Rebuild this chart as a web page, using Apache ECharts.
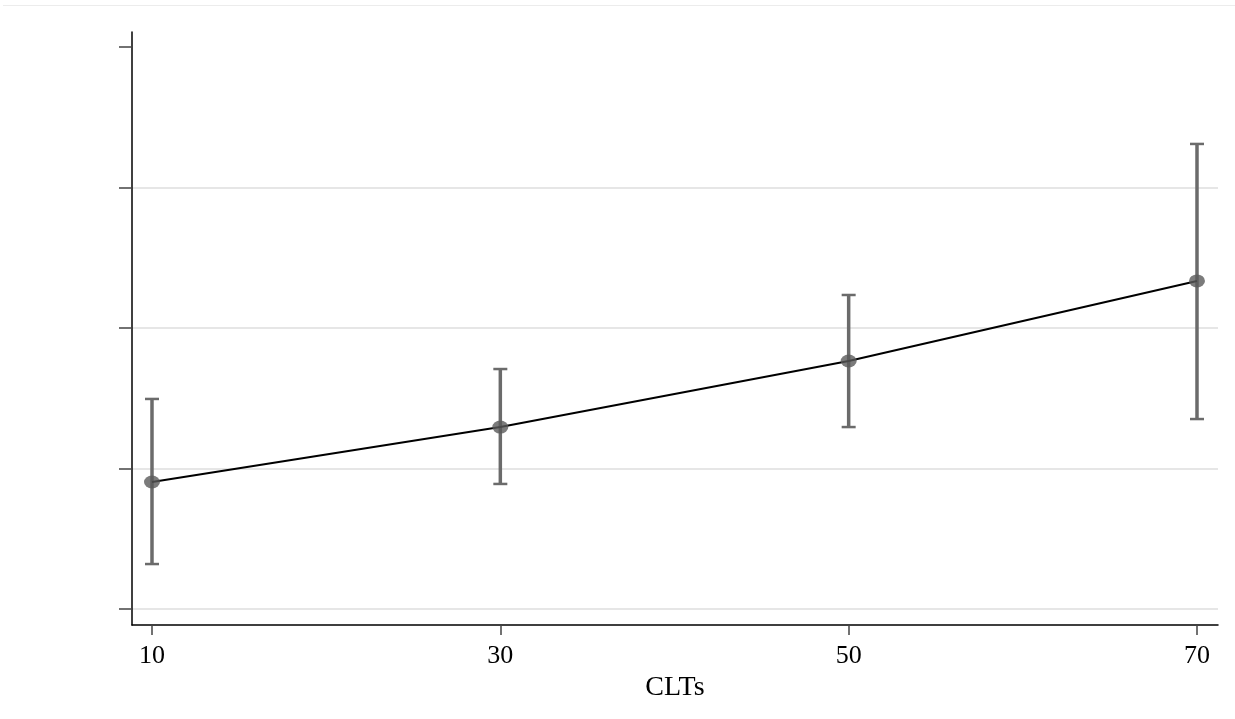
<!DOCTYPE html>
<html><head><meta charset="utf-8">
<script src="https://cdn.jsdelivr.net/npm/echarts@6/dist/echarts.min.js"></script>
<style>html,body{margin:0;padding:0;background:#fff}#c{width:1235px;height:719px}</style>
</head><body><div id="c"></div>
<script>
const categories = [10, 30, 50, 70];
const meanValues = [0.904, 1.295, 1.765, 2.335];
const upperValues = [1.495, 1.708, 2.235, 3.310];
const lowerValues = [0.320, 0.890, 1.295, 1.352];
const xTicks = [10, 30, 50, 70];
const xRange = [8.852, 71.206];
const yTicks = [0, 1, 2, 3, 4];

const chart = echarts.init(document.getElementById('c'), null, {renderer: 'canvas'});
const font = 'Liberation Serif';
const linePts = categories.map((c, i) => [c, meanValues[i]]);
const errPts = categories.map((c, i) => [c, lowerValues[i], upperValues[i]]);

chart.setOption({
  animation: false,
  backgroundColor: '#fff',
  graphic: [{type: 'line', shape: {x1: 3, y1: 5.5, x2: 1235, y2: 5.5}, style: {stroke: '#ececec', lineWidth: 1}, silent: true}],
  grid: [
    {left: 132, right: 17, top: 47, bottom: 110},
    {left: 132, right: 17, top: 32, bottom: 94}
  ],
  xAxis: [
    {type: 'value', gridIndex: 0, min: xRange[0], max: xRange[1], offset: 16,
     axisLine: {show: false, onZero: false},
     axisTick: {show: true, length: 10, customValues: xTicks, lineStyle: {color: '#444', width: 1.5}},
     axisLabel: {fontFamily: font, fontSize: 26, color: '#000', margin: 18, customValues: xTicks},
     splitLine: {show: false},
     name: 'CLTs', nameLocation: 'middle', nameGap: 46,
     nameTextStyle: {fontFamily: font, fontSize: 28, color: '#000'}},
    {type: 'value', gridIndex: 1, min: 0, max: 1, axisLine: {show: true, onZero: false, lineStyle: {color: '#000', width: 1.5}},
     axisTick: {show: false}, axisLabel: {show: false}, splitLine: {show: false}}
  ],
  yAxis: [
    {type: 'value', gridIndex: 0, min: yTicks[0], max: yTicks[yTicks.length-1], interval: 1,
     axisLine: {show: false, onZero: false},
     axisTick: {show: true, length: 13, inside: false, lineStyle: {color: '#444', width: 1.5}},
     axisLabel: {show: false},
     splitLine: {show: true, showMaxLine: false, showMinLine: true, lineStyle: {color: '#e6e6e6', width: 2}}},
    {type: 'value', gridIndex: 1, min: 0, max: 1, axisLine: {show: true, onZero: false, lineStyle: {color: '#000', width: 1.5}},
     axisTick: {show: false}, axisLabel: {show: false}, splitLine: {show: false}}
  ],
  series: [
    {type: 'custom', xAxisIndex: 0, yAxisIndex: 0, data: errPts, z: 2,
     renderItem: function (params, api) {
       const x = api.value(0);
       const lo = api.coord([x, api.value(1)]);
       const hi = api.coord([x, api.value(2)]);
       const w = 7;
       return {type: 'group', children: [
         {type: 'line', shape: {x1: lo[0], y1: lo[1], x2: hi[0], y2: hi[1]}, style: {stroke: '#6b6b6b', lineWidth: 3.5}},
         {type: 'line', shape: {x1: hi[0]-w, y1: hi[1], x2: hi[0]+w, y2: hi[1]}, style: {stroke: '#6b6b6b', lineWidth: 2.5}},
         {type: 'line', shape: {x1: lo[0]-w, y1: lo[1], x2: lo[0]+w, y2: lo[1]}, style: {stroke: '#6b6b6b', lineWidth: 2.5}}
       ]};
     }},
    {type: 'line', xAxisIndex: 0, yAxisIndex: 0, data: linePts, showSymbol: false, symbol: 'none',
     lineStyle: {color: '#000', width: 2}, z: 3},
    {type: 'scatter', xAxisIndex: 0, yAxisIndex: 0, data: linePts, symbol: 'circle', symbolSize: [16, 13],
     itemStyle: {color: '#5a5a5a'}, z: 4}
  ]
});
</script></body></html>
